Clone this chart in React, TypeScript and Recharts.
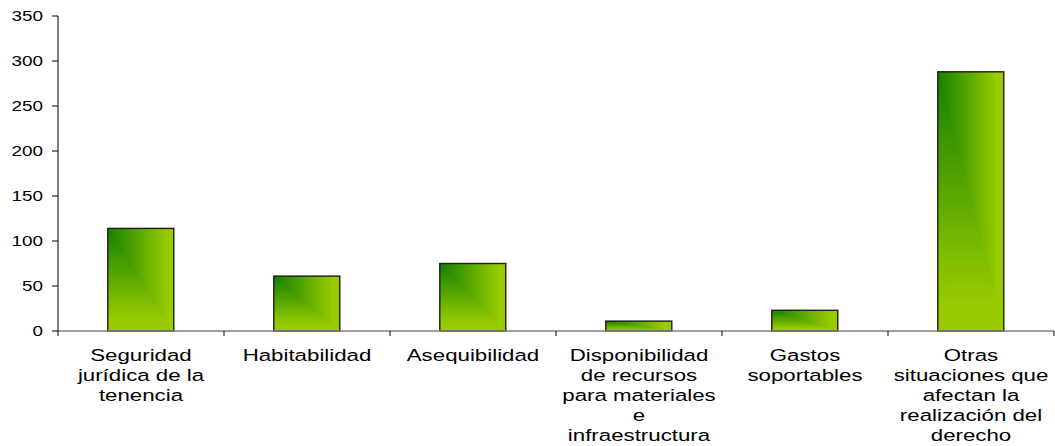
import React from 'react';
import { BarChart, Bar, XAxis, YAxis } from 'recharts';

// one row per category, wrapped the way the labels are printed under the axis
const labelLines: string[][] = [
  ['Seguridad', 'jurídica de la', 'tenencia'],
  ['Habitabilidad'],
  ['Asequibilidad'],
  ['Disponibilidad', 'de recursos', 'para materiales', 'e', 'infraestructura'],
  ['Gastos', 'soportables'],
  ['Otras', 'situaciones que', 'afectan la', 'realización del', 'derecho'],
];
const categories = labelLines.map((l) => l.join(' '));
const values = [114, 61, 75, 11, 23, 288];
const yTicks = [0, 50, 100, 150, 200, 250, 300, 350];

const data = categories.map((name, i) => ({ name, value: values[i] }));

const FONT = '"Liberation Sans", Arial, sans-serif';
const STRETCH = 1.35; // text is drawn wide, as in the original export

const YTick = ({ x, y, payload }: any) => (
  <g transform={`translate(${x - 7},${y})`}>
    <text
      transform={`scale(${STRETCH},1)`}
      textAnchor="end"
      dy="0.36em"
      fontSize={14}
      fontFamily={FONT}
      fill="#000"
    >
      {payload.value}
    </text>
  </g>
);

const XTick = ({ x, y, payload, index, width }: any) => {
  const band = (width || 996) / categories.length;
  const lines = labelLines[index] || [payload.value];
  return (
    <g transform={`translate(${x},${y})`}>
      <line x1={-band / 2} x2={-band / 2} y1={0} y2={5} stroke="#000" />
      {index === categories.length - 1 && (
        <line x1={band / 2} x2={band / 2} y1={0} y2={5} stroke="#000" />
      )}
      <text
        transform={`scale(${STRETCH},1)`}
        textAnchor="middle"
        fontSize={16.5}
        fontFamily={FONT}
        fill="#000"
      >
        {lines.map((line, i) => (
          <tspan key={i} x={0} y={30 + i * 20}>
            {line}
          </tspan>
        ))}
      </text>
    </g>
  );
};

// corner-lit fill: the lighter of a horizontal and a vertical ramp
const GradientBar = ({ x, y, width, height }: any) => {
  if (!height || height <= 0) return null;
  return (
    <g style={{ isolation: 'isolate' }}>
      <rect x={x} y={y} width={width} height={height} fill="url(#rampH)" />
      <rect
        x={x}
        y={y}
        width={width}
        height={height}
        fill="url(#rampV)"
        style={{ mixBlendMode: 'lighten' }}
      />
      <rect
        x={x}
        y={y}
        width={width}
        height={height}
        fill="none"
        stroke="#1e1e1e"
        strokeWidth={1.4}
      />
    </g>
  );
};

export default function App() {
  return (
    <div style={{ position: 'absolute', left: 0, top: 0, background: '#fff' }}>
      <BarChart
        width={1055}
        height={446}
        data={data}
        margin={{ top: 16, right: 1, bottom: 0, left: 0 }}
        barCategoryGap="30%"
      >
        <defs>
          <linearGradient id="rampH" x1="0" y1="0" x2="1" y2="0">
            <stop offset="0%" stopColor="#148000" />
            <stop offset="90%" stopColor="#99cc00" />
          </linearGradient>
          <linearGradient id="rampV" x1="0" y1="0" x2="0" y2="1">
            <stop offset="0%" stopColor="#148000" />
            <stop offset="90%" stopColor="#99cc00" />
          </linearGradient>
        </defs>
        <XAxis
          dataKey="name"
          interval={0}
          height={115}
          tickLine={false}
          tickSize={0}
          tickMargin={0}
          axisLine={{ stroke: '#808080', strokeWidth: 1.5 }}
          tick={<XTick />}
        />
        <YAxis
          width={58}
          domain={[0, 350]}
          ticks={yTicks}
          interval={0}
          tickSize={6}
          tickLine={{ stroke: '#000' }}
          axisLine={{ stroke: '#000' }}
          tick={<YTick />}
        />
        <Bar dataKey="value" shape={<GradientBar />} isAnimationActive={false} />
      </BarChart>
    </div>
  );
}
